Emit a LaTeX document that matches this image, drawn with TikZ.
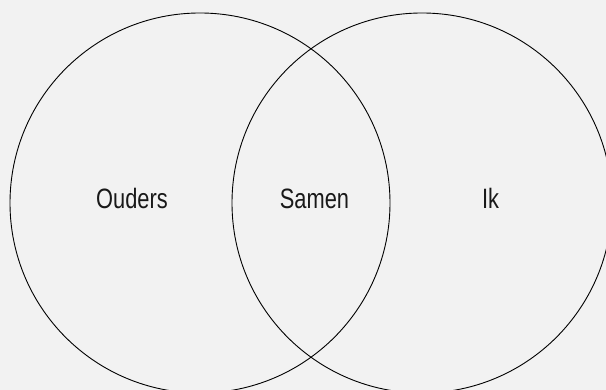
\documentclass[tikz,border=0pt]{standalone}
\usepackage{fontspec}
\setmainfont{Liberation Sans}[FakeStretch=0.78]
\definecolor{bg}{HTML}{F2F2F2}
\begin{document}
\begin{tikzpicture}[x=1pt,y=1pt,
  ring/.style={draw=black,line width=0.9pt},
  lbl/.style={anchor=base,font=\fontsize{28}{30}\selectfont,text=black!90}]
\useasboundingbox (0,0) rectangle (606,390);
\fill[bg] (0,0) rectangle (606,390);
\clip (0,0) rectangle (606,390);
\node[ring,circle,minimum size=380pt,inner sep=0pt] (left) at (200,187) {};
\node[ring,circle,minimum size=380pt,inner sep=0pt] (right) at (422,187) {};
\node[lbl] (ouders) at (132,181) {Ouders};
\node[lbl] (samen) at (314.5,181) {Samen};
\node[lbl] (ik) at (490.5,181) {Ik};
\end{tikzpicture}
\end{document}
